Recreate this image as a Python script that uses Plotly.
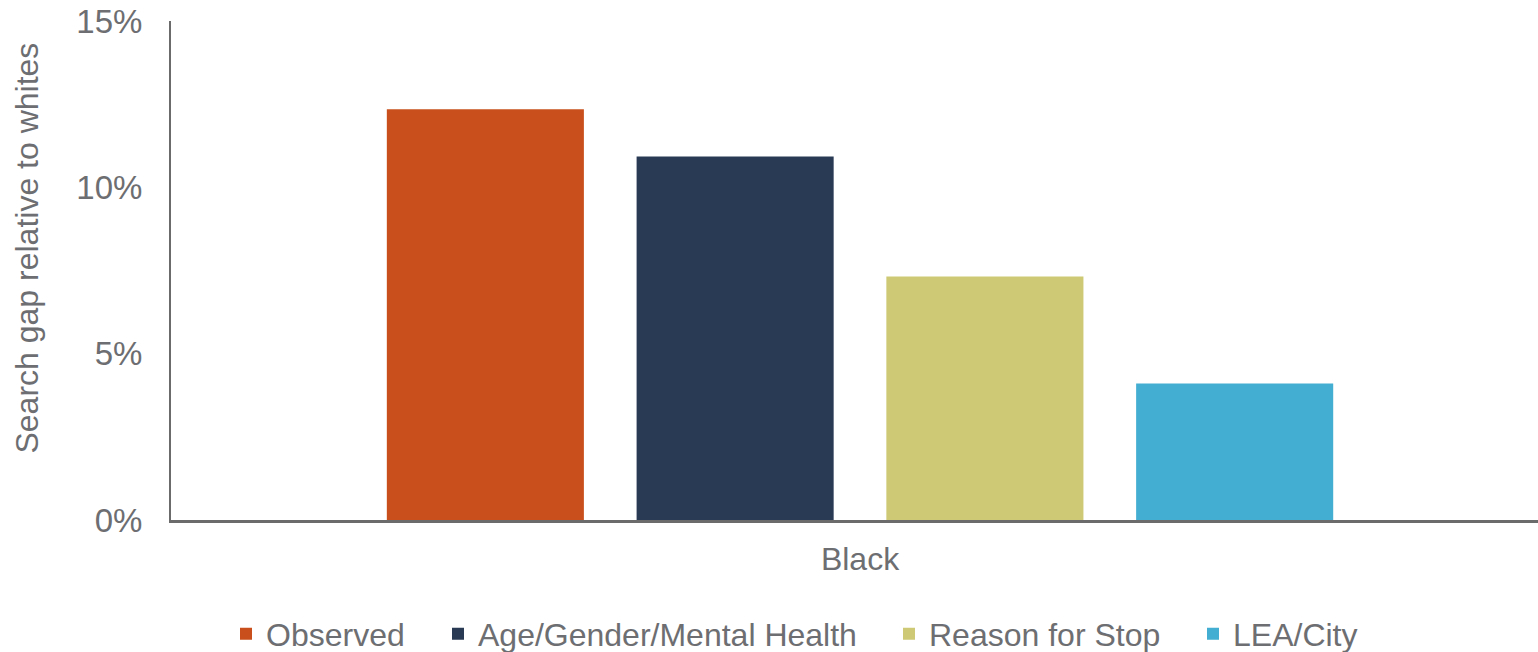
import plotly.graph_objects as go

# Search gap of Black drivers relative to whites, by set of controls
category = ["Black"]
series_names = ["Observed", "Age/Gender/Mental Health", "Reason for Stop", "LEA/City"]
series_values = [12.35, 10.93, 7.32, 4.10]
series_colors = ["#C9501C", "#283A54", "#CDC975", "#43AED1"]

y_ticks = [0, 5, 10, 15]
y_tick_labels = ["0%", "5%", "10%", "15%"]
y_title = "Search gap relative to whites"

# left edge (container px) of each legend entry
legend_left_px = [226, 438, 889, 1193]

W, H = 1538, 652
TEXT = "#6D6E71"
FONT = "Liberation Sans, Arial, sans-serif"
FS = 32

fig = go.Figure()
legend_ids = ["legend", "legend2", "legend3", "legend4"]
for name, val, col, lid in zip(series_names, series_values, series_colors, legend_ids):
    fig.add_trace(go.Bar(
        name=name,
        x=category,
        y=[val],
        marker=dict(color=col, line=dict(width=0)),
        legend=lid,
        showlegend=True,
    ))

legend_layout = {}
for lid, px in zip(legend_ids, legend_left_px):
    legend_layout[lid] = dict(
        orientation="h",
        xref="container",
        x=px / W,
        xanchor="left",
        yref="container",
        y=(H - 634) / H,
        yanchor="middle",
        font=dict(family=FONT, size=FS, color=TEXT),
        itemwidth=30,
        bgcolor="rgba(0,0,0,0)",
    )

fig.update_layout(
    width=W,
    height=H,
    showlegend=True,
    barmode="group",
    bargap=0.275,
    bargroupgap=0.211,
    paper_bgcolor="white",
    plot_bgcolor="white",
    margin=dict(l=171, r=0, t=21, b=132),
    font=dict(family=FONT, size=FS, color=TEXT),
    **legend_layout,
    xaxis=dict(
        range=[-0.5, 0.492],
        showline=True,
        linecolor="#6B6B6B",
        linewidth=2.5,
        showgrid=False,
        zeroline=False,
        ticks="",
        tickfont=dict(family=FONT, size=FS, color=TEXT),
        ticklabelstandoff=9,
    ),
    yaxis=dict(
        range=[0, 15],
        tickvals=y_ticks,
        ticktext=y_tick_labels,
        showline=True,
        linecolor="#6B6B6B",
        linewidth=2,
        showgrid=False,
        zeroline=False,
        ticks="",
        ticklabelstandoff=20,
        tickfont=dict(family=FONT, size=FS + 1, color=TEXT),
    ),
    annotations=[dict(
        text=y_title,
        textangle=-90,
        xref="paper", yref="paper",
        x=(27 - 171) / (W - 171),
        y=(521 - 249) / 500,
        xanchor="center", yanchor="middle",
        showarrow=False,
        font=dict(family=FONT, size=FS, color=TEXT),
    )],
)

fig.write_html("out.html")
